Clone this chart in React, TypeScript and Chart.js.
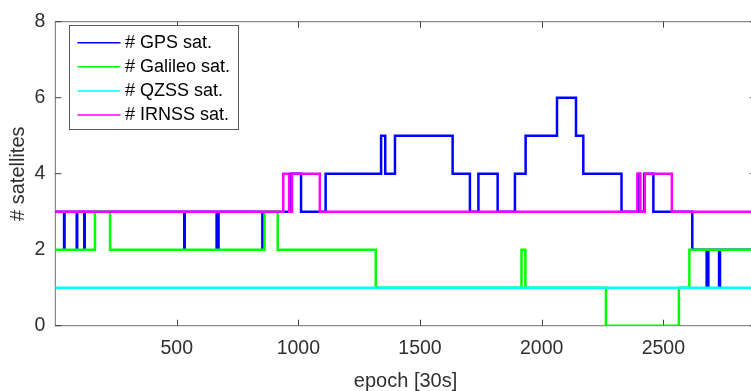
import React, { useEffect, useRef } from 'react';
import { Chart, registerables } from 'chart.js';

Chart.register(...registerables);

// ---- data (step change points: value holds from epoch onward) ----
const xTicks = [500, 1000, 1500, 2000, 2500];
const yTicks = [0, 2, 4, 6, 8];
const xMin = 1;
const xMax = 2880;

const seriesNames = ['# GPS sat.', '# Galileo sat.', '# QZSS sat.', '# IRNSS sat.'];
const seriesColors = ['#0000ff', '#00ff00', '#00ffff', '#ff00ff'];

const gpsEpochs = [1, 37, 39, 89, 91, 120, 122, 531, 533, 664, 672, 852, 854,
  969, 1011, 1112, 1340, 1357, 1397, 1634, 1705, 1740, 1819, 1890, 1934, 2063, 2141, 2171, 2328,
  2398, 2404, 2421, 2459, 2619, 2678, 2685, 2729, 2733, 2880];
const gpsValues = [3, 2, 3, 2, 3, 2, 3, 2, 3, 2, 3, 2, 3,
  4, 3, 4, 5, 4, 5, 4, 3, 4, 3, 4, 5, 6, 5, 4, 3,
  4, 3, 4, 3, 2, 1, 2, 1, 2, 2];

const galileoEpochs = [1, 164, 226, 861, 915, 1318, 1917, 1933, 2264, 2564, 2607, 2880];
const galileoValues = [2, 3, 2, 3, 2, 1, 2, 1, 0, 1, 2, 2];

const qzssEpochs = [1, 2880];
const qzssValues = [1, 1];

const irnssEpochs = [1, 938, 962, 974, 1088, 2393, 2405, 2424, 2535, 2880];
const irnssValues = [3, 4, 3, 4, 3, 4, 3, 4, 3, 3];

const toPoints = (xs: number[], ys: number[]) => xs.map((x, i) => ({ x, y: ys[i] }));

const FONT = '"Liberation Sans", Arial, Helvetica, sans-serif';
const TEXT = '#303030';

const boxPlugin = {
  id: 'matlabBox',
  beforeDatasetsDraw(chart: any) {
    const { ctx, chartArea, scales } = chart;
    const { left, right, top, bottom } = chartArea;
    ctx.save();
    ctx.strokeStyle = '#6e6e6e';
    ctx.lineWidth = 1;
    ctx.strokeRect(left, top, right - left, bottom - top);
    ctx.strokeStyle = '#404040';
    ctx.beginPath();
    xTicks.forEach((v) => {
      const px = Math.round(scales.x.getPixelForValue(v)) + 0.5;
      ctx.moveTo(px, bottom);
      ctx.lineTo(px, bottom - 6);
      ctx.moveTo(px, top);
      ctx.lineTo(px, top + 6);
    });
    yTicks.forEach((v) => {
      const py = scales.y.getPixelForValue(v);
      ctx.moveTo(left, py);
      ctx.lineTo(left + 6, py);
      ctx.moveTo(right, py);
      ctx.lineTo(right - 6, py);
    });
    ctx.stroke();
    ctx.restore();
  },
  afterDraw(chart: any) {
    const { ctx } = chart;
    const bx = 69.5, by = 25.5, bw = 169, bh = 104;
    ctx.save();
    ctx.fillStyle = '#ffffff';
    ctx.fillRect(bx, by, bw, bh);
    ctx.strokeStyle = '#5a5a5a';
    ctx.lineWidth = 1;
    ctx.strokeRect(bx, by, bw, bh);
    ctx.font = `18px ${FONT}`;
    ctx.textBaseline = 'middle';
    ctx.textAlign = 'left';
    seriesNames.forEach((name, i) => {
      const yy = 42.7 + i * 24.1;
      ctx.strokeStyle = seriesColors[i];
      ctx.lineWidth = 1.5;
      ctx.beginPath();
      ctx.moveTo(77.5, yy);
      ctx.lineTo(120.5, yy);
      ctx.stroke();
      ctx.fillStyle = '#000000';
      ctx.fillText(name, 125, yy + 0.5);
    });
    ctx.restore();
  },
};

export default function App() {
  const ref = useRef<HTMLCanvasElement | null>(null);

  useEffect(() => {
    if (!ref.current) return;
    const mk = (i: number, xs: number[], ys: number[]) => ({
      label: seriesNames[i],
      data: toPoints(xs, ys),
      borderColor: seriesColors[i],
      backgroundColor: seriesColors[i],
      borderWidth: 2.5,
      pointRadius: 0,
      stepped: true,
      fill: false,
    });
    const chart = new Chart(ref.current, {
      type: 'line',
      data: {
        datasets: [
          mk(3, irnssEpochs, irnssValues),
          mk(2, qzssEpochs, qzssValues),
          mk(1, galileoEpochs, galileoValues),
          mk(0, gpsEpochs, gpsValues),
        ],
      },
      options: {
        animation: false,
        responsive: false,
        devicePixelRatio: 1,
        layout: { padding: { top: 12.3, right: 4.2, left: 0, bottom: 0 } },
        plugins: { legend: { display: false }, tooltip: { enabled: false } },
        scales: {
          x: {
            type: 'linear',
            min: xMin,
            max: xMax,
            grid: { display: false, drawTicks: false },
            border: { display: false },
            afterBuildTicks: (s: any) => { s.ticks = xTicks.map((v) => ({ value: v })); },
            afterFit: (s: any) => { s.height = 65.3; },
            ticks: {
              color: TEXT,
              font: { family: FONT, size: 19.5 },
              padding: 11,
              maxRotation: 0,
              callback: (v: any) => String(v),
            },
            title: {
              display: true,
              text: 'epoch [30s]',
              color: TEXT,
              font: { family: FONT, size: 20, lineHeight: 1 },
              padding: { top: 0, bottom: 0 },
            },
          },
          y: {
            type: 'linear',
            min: 0,
            max: 8,
            grid: { display: false, drawTicks: false },
            border: { display: false },
            afterBuildTicks: (s: any) => { s.ticks = yTicks.map((v) => ({ value: v })); },
            afterFit: (s: any) => { s.width = 55.3; },
            ticks: { color: TEXT, font: { family: FONT, size: 19.5 }, padding: 10, callback: (v: any) => String(v) },
            title: {
              display: true,
              text: '# satellites',
              color: TEXT,
              font: { family: FONT, size: 20, lineHeight: 1 },
              padding: { top: 8, bottom: 0 },
            },
          },
        },
      },
      plugins: [boxPlugin],
    } as any);
    return () => chart.destroy();
  }, []);

  return (
    <div style={{ position: 'fixed', left: 0, top: 0, width: 751, height: 391, overflow: 'hidden', background: '#fff' }}>
      <canvas ref={ref} width={760} height={391} style={{ display: 'block', width: 760, height: 391 }} />
    </div>
  );
}
